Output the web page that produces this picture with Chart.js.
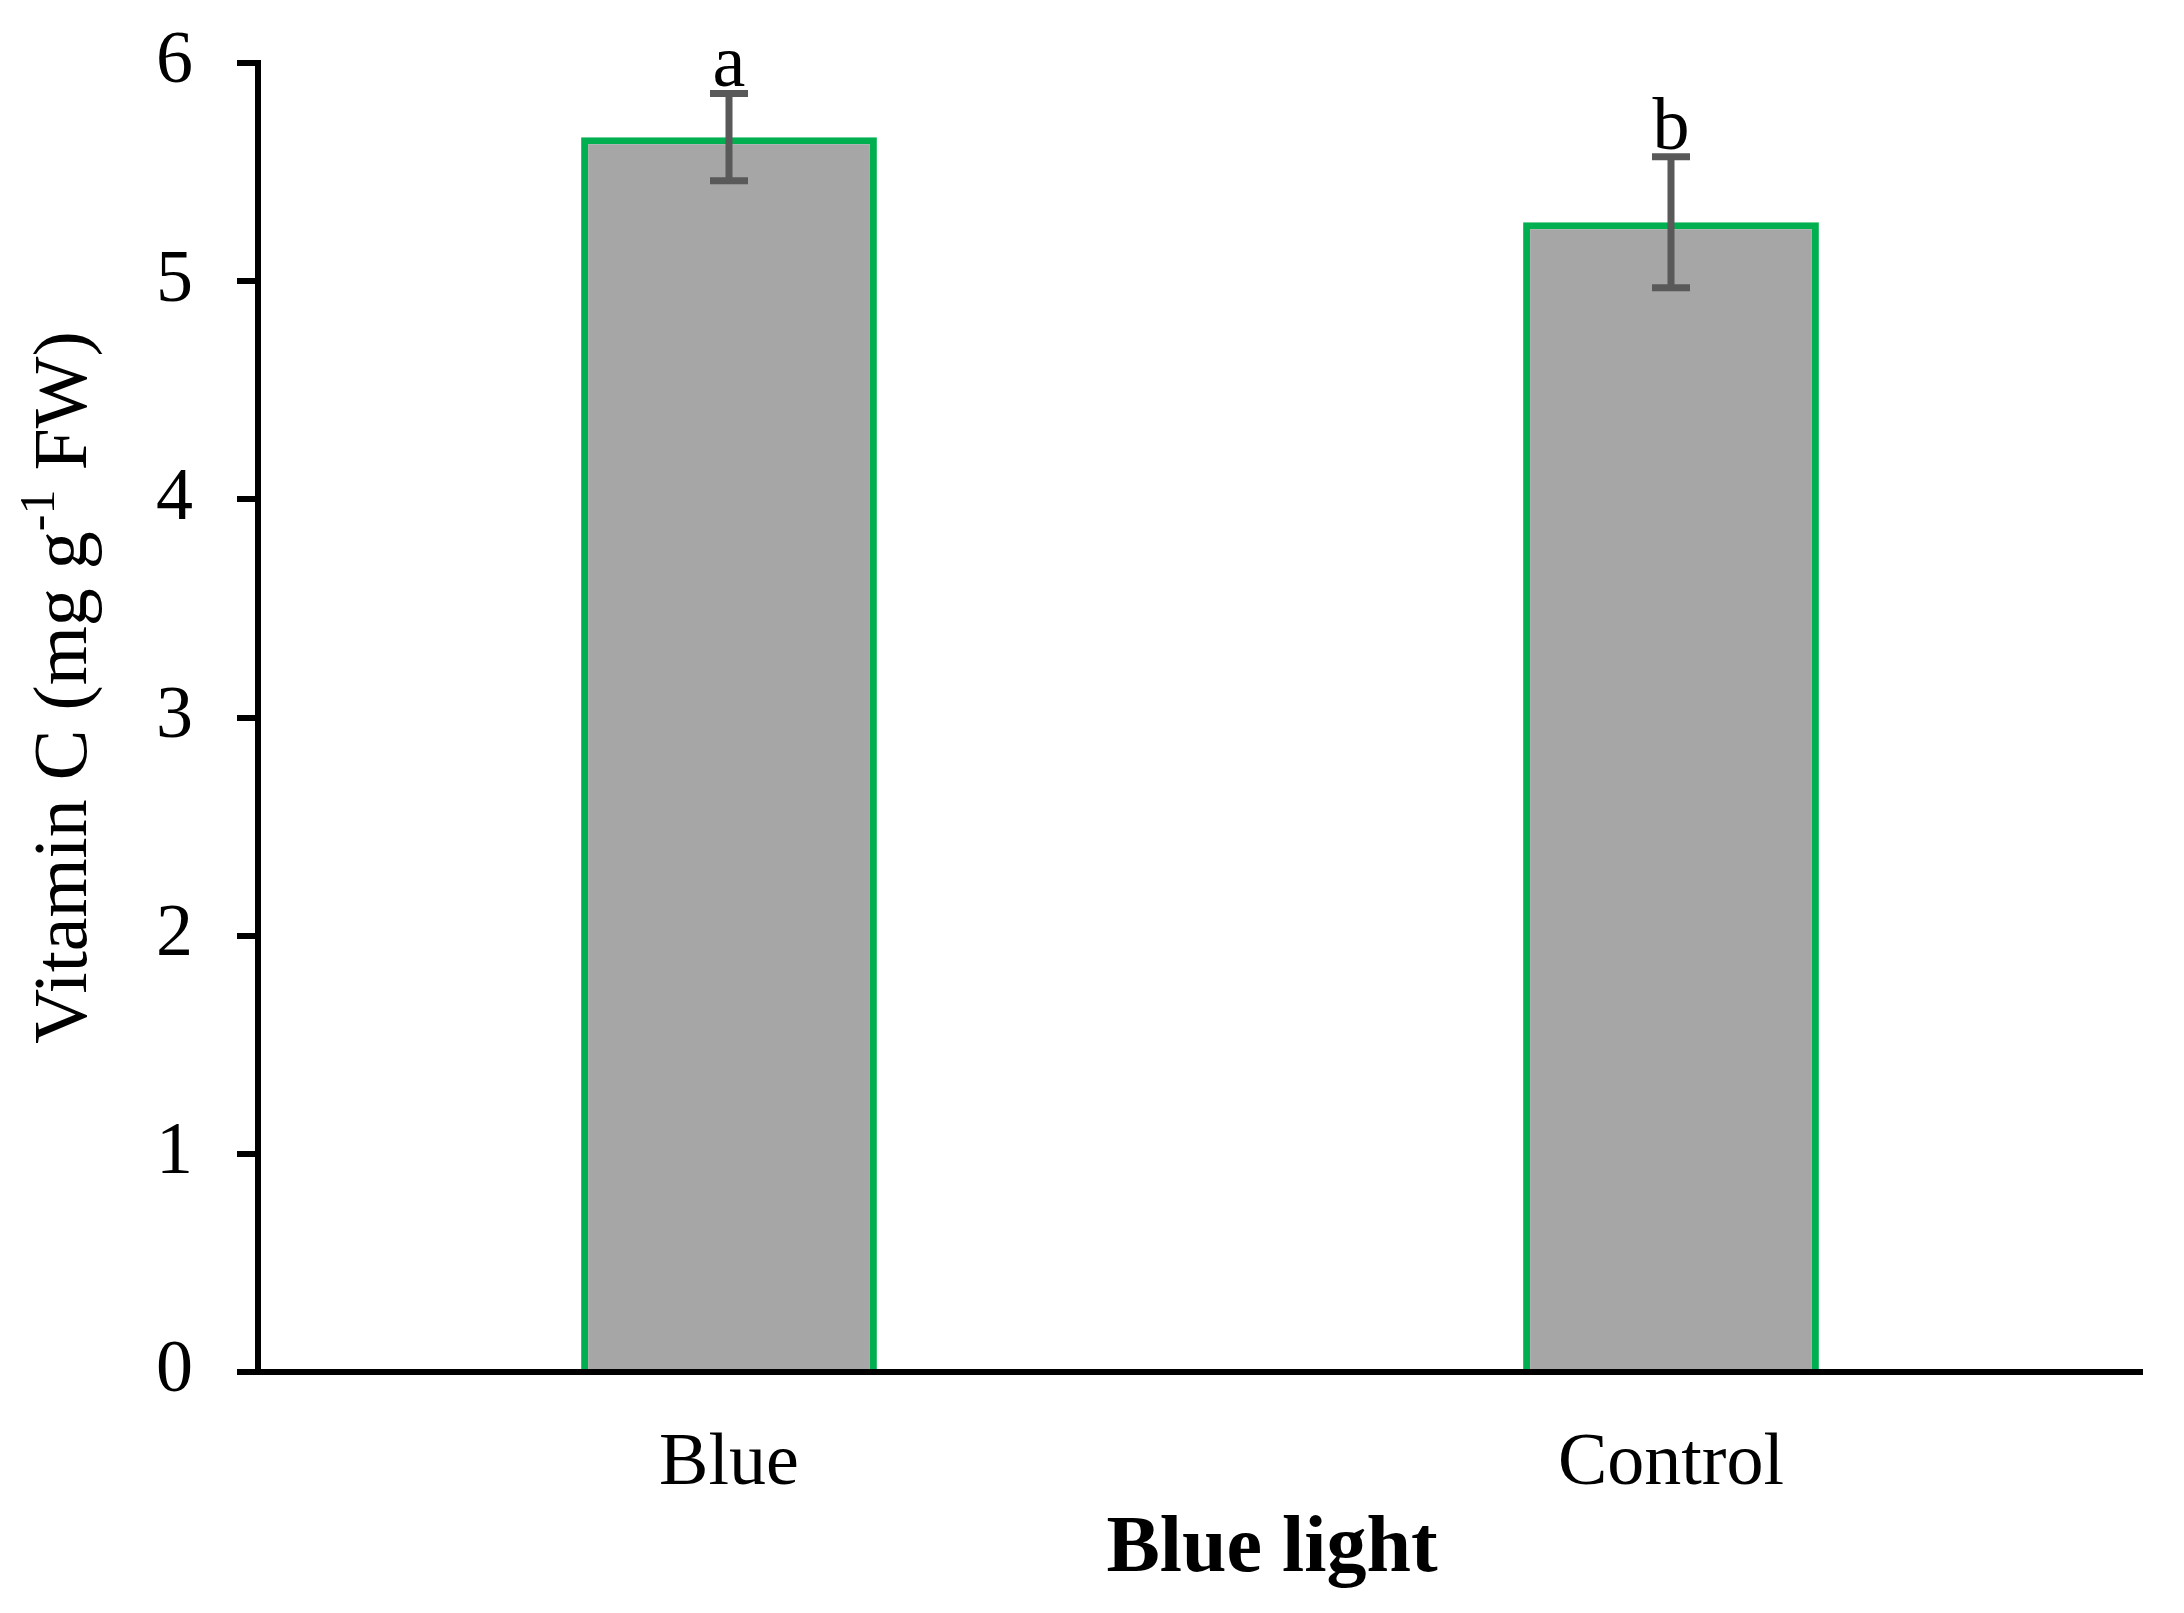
<!DOCTYPE html>
<html>
<head>
<meta charset="utf-8">
<script src="https://cdn.jsdelivr.net/npm/chart.js@4/dist/chart.umd.min.js"></script>
<style>
  html, body { margin: 0; padding: 0; background: #fff; }
  #wrap { width: 2184px; height: 1613px; }
</style>
</head>
<body>
<div id="wrap"><canvas id="vitChart" width="2184" height="1613"></canvas></div>
<script>
const categories = ["Blue", "Control"];
const vitaminC = [5.66, 5.27];
const errors = [0.2, 0.3];
const letters = ["a", "b"];
const yTicks = [0, 1, 2, 3, 4, 5, 6];

const serif = "'Liberation Serif', 'Times New Roman', serif";

// error bars and significance letters
const errorBars = {
  id: "errorBars",
  afterDatasetsDraw(chart) {
    const ctx = chart.ctx;
    const meta = chart.getDatasetMeta(0);
    const y = chart.scales.y;
    ctx.save();
    ctx.strokeStyle = "#595959";
    ctx.lineWidth = 7;
    meta.data.forEach((bar, i) => {
      const x = bar.x;
      const top = y.getPixelForValue(vitaminC[i] + errors[i]);
      const bot = y.getPixelForValue(vitaminC[i] - errors[i]);
      ctx.beginPath();
      ctx.moveTo(x, top); ctx.lineTo(x, bot);
      ctx.moveTo(x - 19, top); ctx.lineTo(x + 19, top);
      ctx.moveTo(x - 19, bot); ctx.lineTo(x + 19, bot);
      ctx.stroke();
      ctx.fillStyle = "#000";
      ctx.font = "74px " + serif;
      ctx.textAlign = "center";
      ctx.textBaseline = "alphabetic";
      ctx.fillText(letters[i], x, top - 8);
    });
    ctx.restore();
  }
};

// axis titles (y title needs a superscript)
const axisTitles = {
  id: "axisTitles",
  afterDraw(chart) {
    const ctx = chart.ctx;
    const area = chart.chartArea;
    ctx.save();
    ctx.fillStyle = "#000";
    ctx.textBaseline = "alphabetic";

    ctx.font = "bold 80px " + serif;
    ctx.textAlign = "center";
    ctx.fillText("Blue light", 1272, 1571);

    const parts = [
      { t: "Vitamin C (mg g", f: "76px " + serif, dy: 0 },
      { t: "-1", f: "50px " + serif, dy: -32 },
      { t: " FW)", f: "76px " + serif, dy: 0 }
    ];
    let total = 0;
    parts.forEach(p => { ctx.font = p.f; p.w = ctx.measureText(p.t).width; total += p.w; });
    ctx.translate(86, (area.top + area.bottom) / 2 - 30);
    ctx.rotate(-Math.PI / 2);
    ctx.textAlign = "left";
    let cx = -total / 2;
    parts.forEach(p => {
      ctx.font = p.f;
      ctx.fillText(p.t, cx, p.dy);
      cx += p.w;
    });
    ctx.restore();
  }
};

new Chart(document.getElementById("vitChart"), {
  type: "bar",
  data: {
    labels: categories,
    datasets: [{
      data: vitaminC,
      backgroundColor: "#A6A6A6",
      borderColor: "#00B050",
      borderWidth: 7,
      borderSkipped: "bottom",
      categoryPercentage: 1,
      barPercentage: 0.314
    }]
  },
  options: {
    responsive: false,
    animation: false,
    layout: { padding: { top: 63, right: 42, left: 0, bottom: 0 } },
    plugins: {
      legend: { display: false },
      tooltip: { enabled: false }
    },
    scales: {
      x: {
        grid: { display: false, drawTicks: false },
        border: { display: true, color: "#000", width: 6 },
        ticks: {
          color: "#000",
          padding: 48,
          font: { family: serif, size: 74 }
        },
        afterFit(scale) { scale.height = 241; }
      },
      y: {
        min: 0,
        max: 6,
        afterBuildTicks(scale) { scale.ticks = yTicks.map(v => ({ value: v })); },
        grid: {
          drawOnChartArea: false,
          color: "#000",
          lineWidth: 6,
          tickLength: 21
        },
        border: { display: true, color: "#000", width: 6 },
        ticks: {
          color: "#000",
          padding: 44,
          font: { family: serif, size: 74 }
        },
        afterFit(scale) {
          scale.width = 258;
          scale.paddingTop = 0;
          scale.paddingBottom = 0;
        }
      }
    }
  },
  plugins: [errorBars, axisTitles]
});
</script>
</body>
</html>
